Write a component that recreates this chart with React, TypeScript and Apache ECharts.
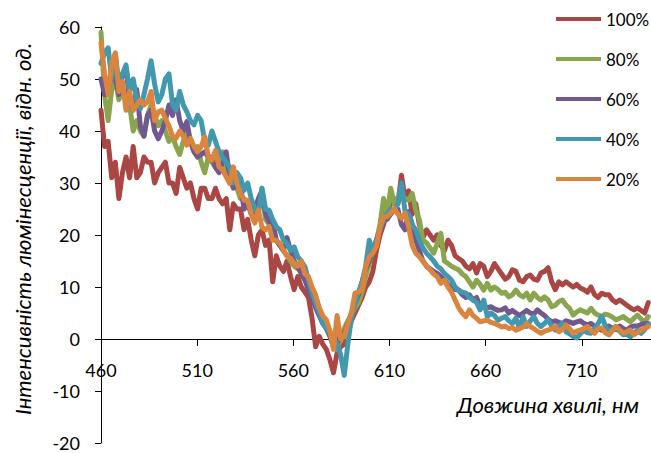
import React, { useEffect, useRef } from "react";
import * as echarts from "echarts";

// Wavelength sampling of the spectra (nm)
const WL_START = 460;
const WL_STEP = 1.86;

const seriesNames = ["100%", "80%", "60%", "40%", "20%"];
const xTicks = [460, 510, 560, 610, 660, 710];
const yTicks = [-20, -10, 0, 10, 20, 30, 40, 50, 60];

const red100 = [
  44, 37, 38, 31, 34, 27, 32, 35, 31, 37,
  31, 32, 35, 34, 34, 30, 32, 33, 34, 30,
  30, 28, 33, 31, 29, 30, 27, 25, 29, 29,
  27, 27, 29, 27, 26, 27, 21, 26, 25, 25,
  21, 23, 19, 16, 20, 21, 18, 19, 11, 16,
  14, 13, 15, 12, 9.5, 12, 10, 9, 8, 4,
  -1.5, 0.5, -1, -2, -4, -6.5, -2.7, -1.5, -1, 1,
  3.5, 5, 6.5, 8, 10, 11, 13, 17, 20, 22,
  25, 26, 27, 26, 31.5, 27, 28.5, 24, 26, 22,
  19.5, 21, 20, 19, 20, 18, 17, 19, 18, 16,
  15.5, 15, 14, 13.5, 14.5, 12.7, 14.5, 14, 12, 13,
  14.5, 13.5, 12.5, 11.5, 12, 13.3, 13, 11.3, 11, 12,
  12.3, 11.5, 11.3, 12.7, 13, 13.7, 11, 9.5, 11, 10.4,
  11, 10.5, 10, 10.5, 9.8, 9.5, 9, 10, 8.5, 8,
  8.8, 8.5, 8.5, 7.5, 7, 7.5, 7, 6.5, 6, 5.6,
  6, 5.5, 5, 7,
];

const green80 = [
  59, 47, 42, 48, 50, 46, 48, 47, 45, 40,
  42, 40, 39, 43, 45, 43, 41, 42, 40, 38,
  39, 37, 35.5, 38, 40, 38, 36, 37, 34, 32,
  35, 34, 33, 35, 36, 33, 31, 30, 29, 27,
  27, 26, 25, 24, 25, 29, 23, 22, 20, 19,
  18, 17, 16, 15, 14, 13.5, 13, 12, 11, 9.5,
  8, 6, 4, 3, 1.5, -1, -2, 0, 2, 3.5,
  4.5, 6, 7, 9, 12, 14.5, 17, 19, 22, 27,
  24, 29, 26, 27, 28, 27, 26.7, 28, 24.8, 22.9,
  19, 18.5, 17.5, 16.5, 18.4, 20.3, 15, 14.5, 14, 13.6,
  13.3, 12.5, 12, 11, 10, 11.3, 10.5, 9.4, 10.7, 9.4,
  10, 9.5, 8.8, 9, 8.1, 8.5, 9.4, 8.5, 8.1, 8.8,
  7.5, 8.8, 8, 7.5, 8.1, 7.5, 6.2, 6.5, 7.2, 7.5,
  6.5, 5.9, 4.6, 5.2, 5.6, 5.3, 5, 5.9, 5, 4.6,
  4.3, 4.8, 4.6, 4.2, 3.7, 4, 4.3, 3.8, 3.3, 4,
  4.6, 3.8, 3.3, 4.3,
];

const purple60 = [
  50, 47, 48, 51, 50, 47, 51, 52, 46, 44,
  48, 41, 39, 43, 44, 40, 38.5, 40, 42, 45,
  43, 46, 42, 40, 41.8, 38, 36, 35, 35.5, 36,
  35, 35, 33, 32, 34, 36, 31, 29, 30, 29.5,
  25, 26, 24, 25, 27, 28.5, 24, 22.5, 22.8, 19,
  18, 17, 19.5, 17, 15, 13.9, 12.5, 11.3, 9.4, 8,
  6, 4.5, 3, 2, 0.5, -1.5, -1, 1, 1, 3,
  5, 7, 8.5, 11, 13.5, 15, 17, 19, 21, 23,
  23, 24, 24.8, 25, 22, 21, 24.5, 22, 19, 17,
  15, 14, 13.5, 13, 12.6, 12, 11.3, 10.5, 10, 9.5,
  9.4, 8.5, 8, 8.5, 7.5, 8, 6.2, 6.5, 6, 6.2,
  5.8, 5.5, 5.6, 6, 5, 5.5, 5, 4.5, 5, 5.5,
  5, 4.8, 5.6, 5, 4.5, 3.8, 3.3, 3.5, 3.2, 3,
  3.5, 3.3, 3, 3.3, 3.5, 3, 2.7, 3, 2.5, 2,
  1.7, 2.2, 2.5, 2, 1.8, 2.5, 2, 1.7, 2.3, 2.5,
  2.5, 2.8, 3, 3,
];

const teal40 = [
  53, 55, 56, 50, 55, 49, 51, 52.7, 47.6, 50,
  46, 44.3, 47, 50, 53.5, 49, 45.6, 47, 50, 51,
  45, 44, 47.6, 45, 43.7, 42, 41.2, 43, 42, 38,
  37.3, 40, 38, 36, 35, 34, 33, 30, 32, 31,
  28.6, 30, 27, 25, 24, 29, 25, 24.8, 23, 21.6,
  21, 19, 18.4, 17, 17.7, 15.8, 15, 13.9, 11.3, 9,
  7, 5, 3, 2, 1, 0, -1, -3, -7, -1,
  4, 7, 9, 11, 14, 19, 17, 19, 21, 23,
  24, 25, 25, 26, 30, 24.5, 24, 22, 21, 19,
  17.5, 16.5, 15.8, 15, 14, 13.5, 12.6, 12, 11.3, 10,
  9.4, 9, 8.8, 8, 7.5, 7, 5.6, 7.5, 4.3, 5,
  4.5, 3.6, 4, 4.3, 3.5, 3, 4, 2, 4.3, 2.4,
  3.5, 4.3, 3, 2.4, 3, 3.7, 2.5, 1.7, 2.5, 3,
  1.4, 1, 0.5, 0.2, 1, 1.7, 1.2, 1.1, 2, 3,
  4.3, 2.5, 1.4, 2, 2.4, 1.5, 0.8, 1, 0.4, 1.2,
  1.7, 1.1, 1.8, 2.8,
];

const orange20 = [
  57, 51, 47, 53, 55, 47.6, 49.5, 44, 47.6, 44,
  45, 46, 45, 45.6, 47.6, 42, 43.7, 44, 42.4, 41,
  39, 38.6, 40, 39, 37.3, 38.6, 37, 36, 37, 38.9,
  35, 34.4, 36.3, 33.1, 32.5, 31.2, 29.9, 33.1, 30, 28,
  26.7, 26.7, 24, 22.3, 24.8, 21.5, 21, 21.6, 19, 19,
  18.4, 17.1, 16, 15.5, 14.6, 14, 15, 12.5, 12, 10,
  8.5, 6, 4.5, 3.7, 1.5, -2, 4.5, 0, 0.4, 3,
  5, 8.8, 9, 9.5, 13.9, 15.8, 16.5, 17.8, 21.6, 23.5,
  23.5, 24.2, 25.1, 24, 23.2, 24.2, 21.6, 18, 16.5, 15.8,
  15, 14, 13.3, 12.5, 12, 10.7, 11.3, 10, 9, 7.5,
  6, 5, 4.3, 5.6, 4.5, 4, 3.3, 3.5, 3.6, 3.2,
  3, 2.7, 2.3, 2.5, 2, 2.2, 1.7, 2, 2.3, 3,
  2.4, 2, 1.5, 1.1, 1.5, 1.7, 2, 2.4, 1.4, 1.8,
  2.7, 2, 1.1, 1.5, 1.7, 2, 2.4, 1.6, 1.1, 2,
  2.1, 1.2, 0.8, 1.6, 2.4, 1.8, 1.1, 1.4, 1.7, 0.8,
  1.3, 1.7, 2, 2.4,
];

const seriesValues = [red100, green80, purple60, teal40, orange20];
const colors = ["#AA4643", "#89A54E", "#71588F", "#4198AF", "#DB843D"];

const FONT = "Lato, 'Open Sans', sans-serif";

const GRID_TOP = 27;
const GRID_BOTTOM = 10;
const CHART_H = 453;
const Y_MIN = -20;
const Y_MAX = 60;

export default function App() {
  const ref = useRef<HTMLDivElement | null>(null);

  useEffect(() => {
    document.body.style.margin = "0";
    if (!ref.current) return;
    const chart = echarts.init(ref.current, undefined, { renderer: "svg" });

    const plotH = CHART_H - GRID_TOP - GRID_BOTTOM;
    // shift the x axis up from the grid bottom (y = -20) to the y = 0 line
    const zeroOffset = -((0 - Y_MIN) / (Y_MAX - Y_MIN)) * plotH;

    const series = seriesValues.map((vals, si) => ({
      name: seriesNames[si],
      type: "line",
      data: vals.map((v, i) => [WL_START + i * WL_STEP, v]),
      showSymbol: false,
      symbol: "none",
      smooth: false,
      lineStyle: { color: colors[si], width: 5, join: "round", cap: "round" },
      itemStyle: { color: colors[si] },
      z: 2 + si,
    }));

    chart.setOption({
      animation: false,
      color: colors,
      grid: {
        left: 101,
        right: 0,
        top: GRID_TOP,
        bottom: GRID_BOTTOM,
        containLabel: false,
        outerBoundsMode: "none",
      },
      legend: {
        orient: "vertical",
        left: 551,
        top: 4,
        data: seriesNames,
        icon: "rect",
        itemWidth: 45,
        itemHeight: 4,
        itemGap: 20,
        textStyle: { fontSize: 17, lineHeight: 20, color: "#000", fontFamily: FONT },
      },
      xAxis: {
        type: "value",
        min: 460,
        max: 746,
        interval: 50,
        offset: zeroOffset,
        axisLine: { show: true, onZero: false, lineStyle: { color: "#000", width: 1 } },
        axisTick: { show: true, length: 7, inside: false, lineStyle: { color: "#000" } },
        axisLabel: {
          margin: 22,
          fontSize: 18,
          color: "#000",
          fontFamily: FONT,
          formatter: (v: number) => (xTicks.includes(v) ? String(v) : ""),
        },
        splitLine: { show: false },
      },
      yAxis: {
        type: "value",
        min: Y_MIN,
        max: Y_MAX,
        interval: 10,
        axisLine: { show: true, lineStyle: { color: "#000", width: 1 } },
        axisTick: { show: true, length: 6, lineStyle: { color: "#000" } },
        axisLabel: {
          margin: 21,
          fontSize: 18,
          color: "#000",
          fontFamily: FONT,
          formatter: (v: number) => (yTicks.includes(v) ? String(v) : ""),
        },
        splitLine: { show: false },
      },
      graphic: [
        {
          type: "text",
          x: 22,
          y: 229,
          rotation: Math.PI / 2,
          style: {
            text: "Інтенсивність люмінесценції, відн. од.",
            font: `italic 22px ${FONT}`,
            fill: "#000",
            textAlign: "center",
            textVerticalAlign: "middle",
          },
        },
        {
          type: "text",
          x: 548,
          y: 404,
          style: {
            text: "Довжина хвилі, нм",
            font: `italic 22px ${FONT}`,
            fill: "#000",
            textAlign: "center",
            textVerticalAlign: "middle",
          },
        },
      ],
      series,
    });

    return () => chart.dispose();
  }, []);

  return <div ref={ref} style={{ width: 651, height: 453 }} />;
}
